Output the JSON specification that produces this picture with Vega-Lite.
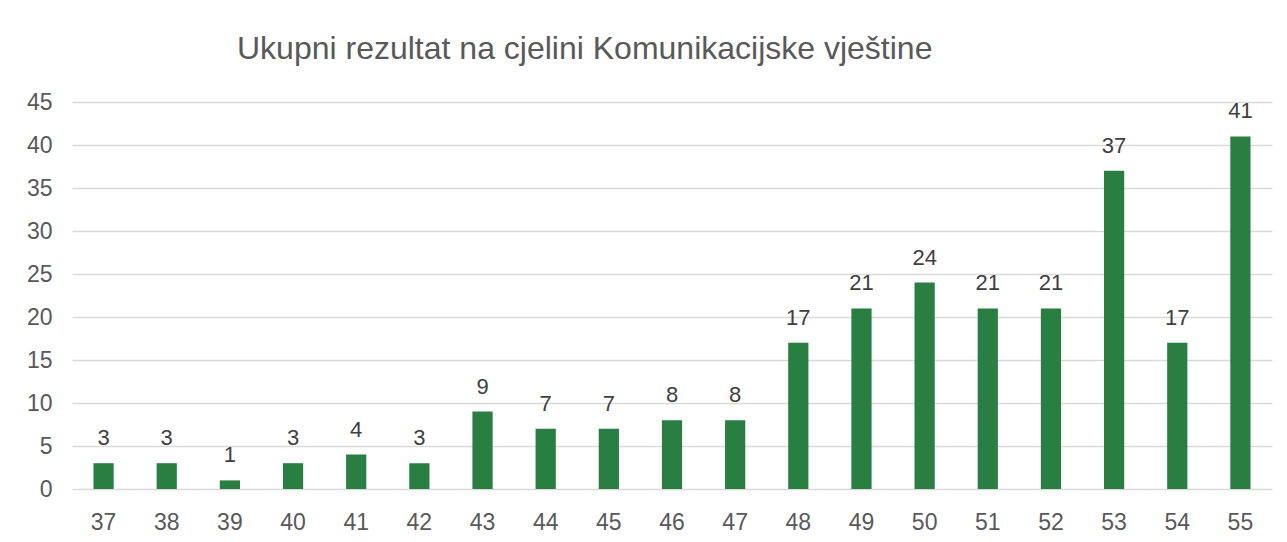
{
  "$schema": "https://vega.github.io/schema/vega-lite/v6.json",
  "width": 1200,
  "height": 387,
  "autosize": "none",
  "padding": {"left": 72, "top": 102, "right": 15, "bottom": 53},
  "background": "white",
  "title": {
    "text": "Ukupni rezultat na cjelini Komunikacijske vještine",
    "anchor": "start",
    "frame": "group",
    "dx": 165,
    "offset": 25,
    "font": "Liberation Sans",
    "fontSize": 32,
    "fontWeight": "normal",
    "color": "#595959"
  },
  "data": {
    "values": [
      {"score": "37", "count": 3},
      {"score": "38", "count": 3},
      {"score": "39", "count": 1},
      {"score": "40", "count": 3},
      {"score": "41", "count": 4},
      {"score": "42", "count": 3},
      {"score": "43", "count": 9},
      {"score": "44", "count": 7},
      {"score": "45", "count": 7},
      {"score": "46", "count": 8},
      {"score": "47", "count": 8},
      {"score": "48", "count": 17},
      {"score": "49", "count": 21},
      {"score": "50", "count": 24},
      {"score": "51", "count": 21},
      {"score": "52", "count": 21},
      {"score": "53", "count": 37},
      {"score": "54", "count": 17},
      {"score": "55", "count": 41}
    ]
  },
  "encoding": {
    "x": {
      "field": "score",
      "type": "ordinal",
      "sort": null,
      "scale": {"paddingInner": 0.68, "paddingOuter": 0.34},
      "axis": {
        "title": null,
        "labelAngle": 0,
        "labelFont": "Liberation Sans",
        "labelFontSize": 23,
        "labelColor": "#595959",
        "labelPadding": 22,
        "ticks": false,
        "domain": false,
        "grid": false
      }
    },
    "y": {
      "field": "count",
      "type": "quantitative",
      "scale": {"domain": [0, 45], "nice": false},
      "axis": {
        "title": null,
        "values": [0, 5, 10, 15, 20, 25, 30, 35, 40, 45],
        "labelFont": "Liberation Sans",
        "labelFontSize": 23,
        "labelColor": "#595959",
        "labelPadding": 20,
        "ticks": false,
        "domain": false,
        "grid": true,
        "gridColor": "#D9D9D9",
        "gridWidth": 1.5
      }
    }
  },
  "layer": [
    {"mark": {"type": "bar", "color": "#297E41"}},
    {
      "mark": {
        "type": "text",
        "baseline": "bottom",
        "dy": -13,
        "font": "Liberation Sans",
        "fontSize": 22,
        "color": "#404040"
      },
      "encoding": {"text": {"field": "count", "type": "quantitative"}}
    }
  ],
  "config": {"view": {"stroke": null}}
}
